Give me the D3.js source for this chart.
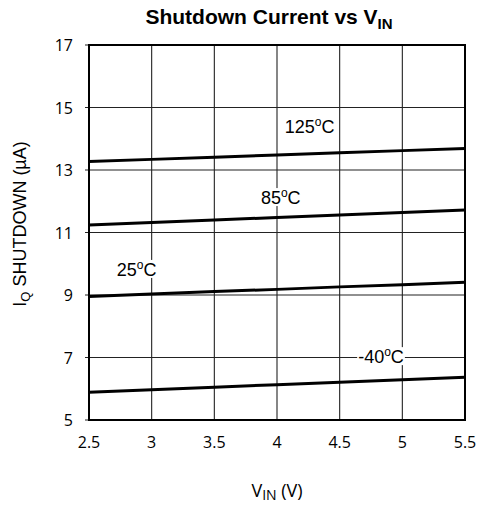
<!DOCTYPE html>
<html>
<head>
<meta charset="utf-8">
<script src="https://cdn.jsdelivr.net/npm/d3@7"></script>
<style>
  body { margin: 0; background: #fff; }
</style>
</head>
<body>
<script>
// values
const vin = [2.5, 3, 3.5, 4, 4.5, 5, 5.5];
const iq125 = [13.27, 13.34, 13.41, 13.48, 13.55, 13.62, 13.69];
const iq85 = [11.24, 11.32, 11.40, 11.48, 11.56, 11.64, 11.72];
const iq25 = [8.95, 9.03, 9.11, 9.18, 9.26, 9.33, 9.41];
const iqM40 = [5.89, 5.97, 6.05, 6.13, 6.21, 6.29, 6.37];
const seriesNames = ['125°C', '85°C', '25°C', '-40°C'];
const xTicks = [2.5, 3, 3.5, 4, 4.5, 5, 5.5];
const yTicks = [5, 7, 9, 11, 13, 15, 17];

const series = [iq125, iq85, iq25, iqM40];
// label baseline anchor (V, µA) for each curve
const labelPos = [[4.26, 14.18], [4.03, 11.91], [2.88, 9.61], [4.83, 6.82]];

const W = 477, H = 508;
const m = { left: 89, right: 12, top: 45, bottom: 88 };

const svg = d3.select('body').append('svg').attr('width', W).attr('height', H);

const x = d3.scaleLinear().domain([2.5, 5.5]).range([m.left, W - m.right]);
const y = d3.scaleLinear().domain([5, 17]).range([H - m.bottom, m.top]);

// grid
svg.append('g')
  .selectAll('line.v')
  .data(xTicks)
  .enter()
  .append('line')
  .attr('x1', d => x(d)).attr('x2', d => x(d))
  .attr('y1', y(5)).attr('y2', y(17))
  .attr('stroke', '#222').attr('stroke-width', 1.1);

svg.append('g')
  .selectAll('line.h')
  .data(yTicks)
  .enter()
  .append('line')
  .attr('x1', x(2.5) - 4).attr('x2', x(5.5))
  .attr('y1', d => y(d)).attr('y2', d => y(d))
  .attr('stroke', '#222').attr('stroke-width', 1.1);

// curves
const line = d3.line().x((d, i) => x(vin[i])).y(d => y(d));
svg.selectAll('path.curve')
  .data(series)
  .enter()
  .append('path')
  .attr('d', line)
  .attr('fill', 'none')
  .attr('stroke', '#000')
  .attr('stroke-width', 3);

// border
svg.append('rect')
  .attr('x', x(2.5)).attr('y', y(17))
  .attr('width', x(5.5) - x(2.5)).attr('height', y(5) - y(17))
  .attr('fill', 'none').attr('stroke', '#000').attr('stroke-width', 2);

// curve labels with white backing
const lab = svg.append('g')
  .selectAll('g')
  .data(seriesNames)
  .enter()
  .append('g')
  .attr('transform', (d, i) => `translate(${x(labelPos[i][0])},${y(labelPos[i][1])})`);

lab.append('text')
  .attr('font-family', 'Liberation Sans, Arial, sans-serif')
  .attr('font-size', 18)
  .attr('text-anchor', 'middle')
  .attr('fill', '#000')
  .each(function (d) {
    const t = d3.select(this);
    const parts = d.split('°');
    t.append('tspan').text(parts[0]);
    t.append('tspan').attr('dy', -7).attr('font-size', 12).text('o');
    t.append('tspan').attr('dy', 7).text(parts[1]);
  });

lab.each(function () {
  const g = d3.select(this);
  const bb = g.select('text').node().getBBox();
  g.insert('rect', 'text')
    .attr('x', bb.x - 1).attr('y', bb.y + 2)
    .attr('width', bb.width + 2).attr('height', bb.height - 4)
    .attr('fill', '#fff');
});

// tick labels
svg.append('g')
  .selectAll('text')
  .data(xTicks)
  .enter()
  .append('text')
  .attr('x', d => x(d)).attr('y', y(5) + 28)
  .attr('text-anchor', 'middle')
  .attr('font-family', 'Open Sans, sans-serif')
  .attr('font-size', 16)
  .text(d => d);

svg.append('g')
  .selectAll('text')
  .data(yTicks)
  .enter()
  .append('text')
  .attr('x', x(2.5) - 16).attr('y', d => y(d) + 6)
  .attr('text-anchor', 'end')
  .attr('font-family', 'Open Sans, sans-serif')
  .attr('font-size', 16)
  .text(d => d);

// title
const title = svg.append('text')
  .attr('x', 269).attr('y', 24)
  .attr('text-anchor', 'middle')
  .attr('font-family', 'Liberation Sans, Arial, sans-serif')
  .attr('font-weight', 'bold')
  .attr('font-size', 21);
title.append('tspan').text('Shutdown Current vs V');
title.append('tspan').attr('dy', 5).attr('font-size', 15).text('IN');

// x label
const xl = svg.append('text')
  .attr('x', 277).attr('y', 497)
  .attr('text-anchor', 'middle')
  .attr('font-family', 'Open Sans, sans-serif')
  .attr('font-size', 18);
xl.append('tspan').text('V');
xl.append('tspan').attr('dy', 3).attr('font-size', 14).text('IN');
xl.append('tspan').attr('dy', -3).text(' (V)');

// y label
const yl = svg.append('text')
  .attr('transform', `translate(26,224) rotate(-90)`)
  .attr('text-anchor', 'middle')
  .attr('font-family', 'Liberation Sans, Arial, sans-serif')
  .attr('font-size', 18);
yl.append('tspan').text('I');
yl.append('tspan').attr('dy', 4).attr('font-size', 13).text('Q');
yl.append('tspan').attr('dy', -4).text(' SHUTDOWN (µA)');
</script>
</body>
</html>
